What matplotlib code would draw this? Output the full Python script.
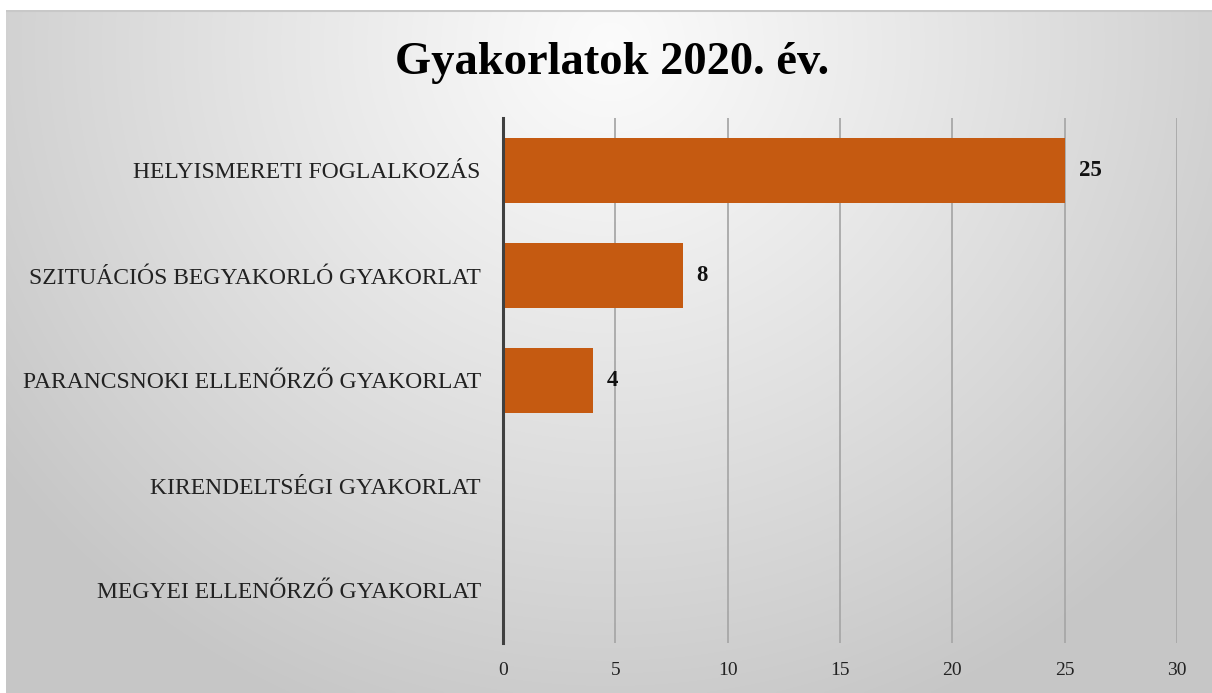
import numpy as np
import matplotlib
matplotlib.use("Agg")
import matplotlib.pyplot as plt

categories = [
    "HELYISMERETI FOGLALKOZÁS",
    "SZITUÁCIÓS BEGYAKORLÓ GYAKORLAT",
    "PARANCSNOKI ELLENŐRZŐ GYAKORLAT",
    "KIRENDELTSÉGI GYAKORLAT",
    "MEGYEI ELLENŐRZŐ GYAKORLAT",
]
values = [25, 8, 4, 0, 0]
value_labels = ["25", "8", "4", "", ""]
xticks = [0, 5, 10, 15, 20, 25, 30]
title = "Gyakorlatok 2020. év."

W, H = 1212, 693
fig = plt.figure(figsize=(W / 100, H / 100), dpi=100)
fig.patch.set_facecolor("white")

# background radial gradient panel
bx0, by_top = 6, 10
bg = fig.add_axes([bx0 / W, 0, 1 - bx0 / W, (H - by_top) / H])
bg.set_axis_off()
gh, gw = 300, 520
yy, xx = np.mgrid[0:gh, 0:gw]
cx, cy = gw * 0.5, gh * 0.05
r = np.sqrt(((xx - cx) / (gw * 0.62)) ** 2 + ((yy - cy) / (gh * 1.05)) ** 2)
r = np.clip(r, 0, 1)
c0, c1 = 0.985, 0.78
val = c0 + (c1 - c0) * r ** 1.1
img = np.dstack([val, val, val])
bg.imshow(img, aspect="auto", extent=[0, 1, 0, 1], interpolation="bilinear")
bg.set_xlim(0, 1)
bg.set_ylim(0, 1)
bg.plot([0, 1], [0.999, 0.999], color="#c8c8c8", lw=1.5, transform=bg.transAxes)

left, right = 503 / W, 1177 / W
top, bottom = 1 - 118 / H, 1 - 643 / H
ax = fig.add_axes([left, bottom, right - left, top - bottom])
ax.set_facecolor("none")

serif = ["Liberation Serif", "DejaVu Serif"]
y = np.arange(len(categories))
ax.barh(y, values, height=0.62, color="#C55A11", zorder=3)
ax.set_ylim(len(categories) - 0.5, -0.5)
ax.set_xlim(0, 30)
ax.set_xticks(xticks)
ax.set_xticklabels([str(t) for t in xticks], family=serif, fontsize=14, color="#222222")
ax.set_yticks(y)
ax.set_yticklabels(categories, family=serif, fontsize=17, color="#222222")
ax.tick_params(axis="both", length=0)
ax.tick_params(axis="x", pad=14)
ax.tick_params(axis="y", pad=16)
for s in ["top", "right", "bottom"]:
    ax.spines[s].set_visible(False)
ax.spines["left"].set_color("#404040")
ax.spines["left"].set_linewidth(2.2)
ax.spines["left"].set_zorder(4)
ax.grid(axis="x", color="#a8a8a8", lw=1.3, zorder=1)
ax.grid(axis="y", visible=False)

for yi, v, lab in zip(y, values, value_labels):
    if lab:
        ax.annotate(lab, (v, yi), xytext=(10, 0), textcoords="offset points",
                    va="center", ha="left", family=serif, fontsize=16.5,
                    fontweight="bold", color="#111111")

fig.text(612 / W, 1 - 63 / H, title, ha="center", va="center", family=serif,
         fontsize=33.5, fontweight="bold", color="black")

fig.savefig("out.png", dpi=100)
